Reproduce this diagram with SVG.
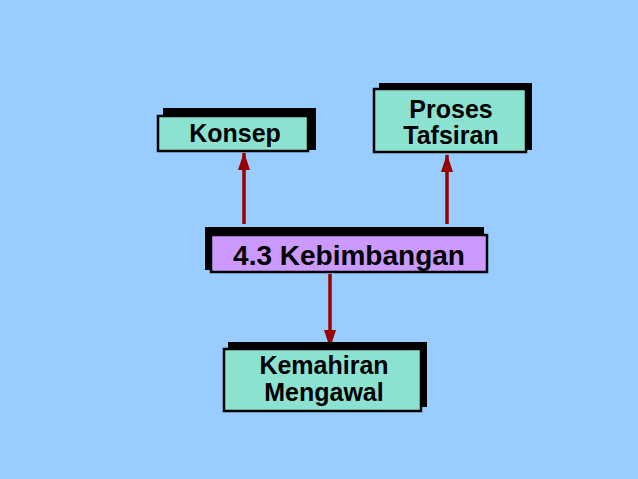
<svg xmlns="http://www.w3.org/2000/svg" width="638" height="479" viewBox="0 0 638 479">
<defs>
<style>
.shadow{fill:#000000}
.box{fill:#8CE2D0;stroke:#000000;stroke-width:2.5}
.main{fill:#CC99FF;stroke:#000000;stroke-width:2.5}
.t{font-family:"Liberation Sans",Arial,sans-serif;font-weight:bold;font-size:25px;fill:#000000;text-anchor:middle}
.tm{font-size:28px}
.arrow{stroke:#990000;stroke-width:3.5;fill:none}
</style>
<marker id="ah" viewBox="0 0 18 12" refX="17" refY="6" markerWidth="18" markerHeight="12" markerUnits="userSpaceOnUse" orient="auto">
<path d="M0,0 L18,6 L0,12 Z" fill="#990000"/>
</marker>
</defs>
<rect width="638" height="479" fill="#99CCFF"/>
<g id="connectors">
<line class="arrow" x1="244" y1="224" x2="244" y2="153" marker-end="url(#ah)"/>
<line class="arrow" x1="447" y1="224" x2="447" y2="155" marker-end="url(#ah)"/>
<line class="arrow" x1="330" y1="274" x2="330" y2="347" marker-end="url(#ah)"/>
</g>
<g id="konsep">
<rect class="shadow" x="163" y="108" width="153" height="42"/>
<rect class="box" x="158" y="116" width="150" height="35"/>
<text class="t" x="235" y="142">Konsep</text>
</g>
<g id="proses">
<rect class="shadow" x="379" y="83" width="153" height="67"/>
<rect class="box" x="374" y="89" width="152" height="63"/>
<text class="t" x="451" y="118">Proses</text>
<text class="t" x="451" y="144">Tafsiran</text>
</g>
<g id="kebimbangan">
<rect class="shadow" x="205" y="227" width="279" height="43"/>
<rect class="main" x="211" y="235" width="276" height="37"/>
<text class="t tm" x="349" y="265">4.3 Kebimbangan</text>
</g>
<g id="kemahiran">
<rect class="shadow" x="228" y="342" width="199" height="65"/>
<rect class="box" x="224" y="349" width="197" height="62"/>
<text class="t" x="324" y="374">Kemahiran</text>
<text class="t" x="324" y="401">Mengawal</text>
</g>
</svg>
